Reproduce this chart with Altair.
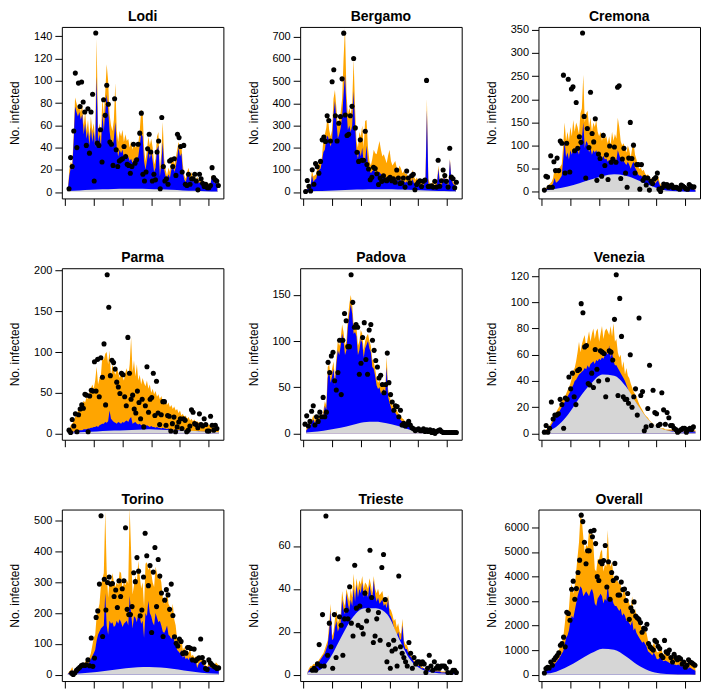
import altair as alt
import numpy as np
import pandas as pd

X_TICKS = [0, 20, 40, 60, 80, 100]
X_DOMAIN = [-2.2, 110.2]

# ---------------- Lodi ----------------
lodi_start = 2
lodi_orange = [3,20,27,25,50,85,80,75,80,72, 78,60,72,55,65,50,68,55,62,48,
               138,55,62,50,85,70,90,115,100,70, 60,55,65,98,55,45,55,50,56,45,
               52,46,48,40,46,38,45,40,42,44, 55,74,72,40,28,38,50,42,48,40,
               25,30,50,54,20,35,63,30,20,15, 22,18,28,32,25,30,38,45,40,42,
               25,15,12,18,22,14,18,12,16,10, 14,10,12,8,11,8,9,6,8,6, 15,13,10,11,8]
lodi_blue = [2,15,22,20,45,77,72,68,72,65, 70,52,62,48,55,42,58,45,55,40,
             104,45,52,40,70,55,72,88,75,55, 45,40,48,63,40,32,38,35,38,30,
             35,30,32,28,30,26,30,28,30,32, 42,53,50,28,20,28,38,30,36,28,
             18,22,38,42,14,25,45,20,14,11, 16,13,20,25,18,22,30,40,32,35,
             18,11,9,14,17,10,14,9,12,8, 11,8,9,6,9,6,7,5,6,5, 13,11,8,9,6]
lodi_grey = [1, 1.5, 2, 2.5, 2.8, 3, 3, 2.8, 2.5, 2, 1.5, 1.1, 0.8, 0.5]
lodi_points = [3,31,23,55,107,40,98,77,99,81,72,42,75,35,72,88,10,143,44,42,56,27,83,69,96,79,45,43,24,84,
               38,23,28,29,30,41,32,25,24,17,23,43,26,29,43,53,71,16,10,18,39,52,36,10,16,11,36,46,3,67,
               23,10,12,7,28,29,23,30,15,52,49,41,18,42,7,6,16,7,12,12,16,10,2,16,12,8,5,7,4,4,6,22,13,11,10,6]

# ---------------- Bergamo ----------------
bergamo_start = 1
bergamo_orange = [2,10,20,25,30,100,70,75,80,120, 130,130,160,240,260,290,350,280,250,280,
                  420,460,380,300,330,360,420,600,740,450, 350,380,350,400,600,380,230,200,270,250,
                  300,200,320,325,200,140,120,150,190,175, 170,200,230,190,160,170,150,130,165,190,
                  140,120,130,140,110,100,120,105,85,95, 80,85,60,75,60,100,70,55,65,50,
                  60,45,40,55,70,420,60,40,35,45, 30,40,50,120,55,40,60,90,60,45, 40,150,70,50,40,35]
bergamo_blue = [2,8,15,20,25,75,45,55,60,90, 100,105,140,180,190,240,255,230,205,230,
                350,410,320,240,260,290,340,440,530,380, 280,300,270,300,455,300,180,150,190,160,
                200,130,140,210,120,100,85,95,100,90, 80,85,90,80,70,75,65,60,70,75,
                60,55,60,62,55,50,58,52,45,50, 42,48,38,42,35,60,40,35,40,32,
                38,30,28,35,45,370,40,28,25,30, 22,28,35,105,40,30,45,70,45,35, 30,145,55,40,30,28]
bergamo_grey = [2, 4, 6, 8, 10, 11, 12, 12, 11, 10, 8, 6, 4, 3]
bergamo_points = [2,52,26,5,100,35,128,114,85,138,235,248,228,344,322,230,497,551,344,230,310,340,510,716,347,
                  255,260,344,386,602,289,179,138,235,143,143,274,124,104,55,66,111,106,82,34,63,48,73,54,51,
                  60,66,51,60,44,99,63,38,41,63,22,95,63,41,73,80,10,34,44,51,25,48,54,503,25,26,28,22,48,22,
                  143,26,51,99,74,48,22,197,67,60,19,44]

# ---------------- Cremona ----------------
cremona_start = 2
cremona_orange = [5,8,12,15,18,22,30,50,40,45, 50,55,60,100,150,110,130,110,140,120,
                  155,130,150,140,125,170,180,253,150,170, 175,140,160,130,150,140,155,130,120,130,
                  110,130,115,120,105,120,100,130,110,125, 115,160,140,110,100,105,95,85,100,90,
                  75,95,105,80,70,55,50,52,45,48, 40,35,38,30,28,30,22,25,30,35,
                  22,15,12,18,20,15,16,13,14,12, 13,11,12,10,11,9,10,8,9,7, 8,12,11,10,9,8]
cremona_blue = [3,6,8,10,12,14,18,30,20,22, 25,30,35,70,110,75,85,70,90,80,
                95,85,100,90,80,105,115,150,95,110, 105,85,95,80,90,85,90,80,75,80,
                70,78,70,72,65,70,62,75,68,72, 68,90,80,70,65,68,62,58,65,58,
                50,60,65,52,46,38,35,36,32,33, 28,25,27,22,20,22,16,18,22,26,
                16,10,8,12,14,10,11,9,10,8, 9,8,8,7,8,6,7,6,6,5, 6,9,8,7,6,5]
cremona_grey = [3, 7, 12, 19, 27, 34, 38, 35, 26, 15, 6, 2, 1, 0.5]
cremona_points = [4,34,32,10,78,10,65,46,73,46,110,105,252,41,105,243,43,222,227,89,193,94,119,107,343,
                  163,30,137,96,215,126,108,158,25,82,72,34,122,57,80,27,99,64,71,97,64,226,229,29,71,
                  94,41,10,73,150,72,101,41,59,59,6,59,25,31,15,30,4,23,18,28,31,41,6,1,9,17,13,16,10,13,
                  15,9,10,10,8,6,15,13,10,7,6,16,13,10,11]

# ---------------- Parma ----------------
parma_start = 2
parma_orange = [3,5,10,12,15,20,22,28,32,30, 35,40,38,45,42,50,55,60,55,65,
                82,60,68,72,95,90,98,100,85,102, 70,85,78,72,80,75,68,78,70,65,
                75,80,70,85,118,75,90,70,85,65, 72,60,68,62,58,65,55,60,50,55,
                48,52,45,48,42,46,40,38,42,35, 38,32,35,30,33,28,30,25,28,22,
                24,20,22,18,20,16,18,15,17,14, 15,13,14,12,13,11,12,10,11,9, 10,8,9,7,6,5]
parma_blue = [1,1,2,2,2,3,3,3,4,4, 4,5,5,5,6,6,7,7,8,8,
              9,8,10,11,12,12,14,13,15,28, 18,16,14,13,12,14,13,12,14,13,
              15,16,14,18,20,12,13,14,12,11, 12,10,11,10,9,10,9,8,9,8,
              8,7,8,7,7,6,7,6,6,5, 6,5,5,5,4,5,4,4,4,4,
              3,4,3,3,3,3,3,3,2,3, 2,3,2,2,2,2,2,2,2,2, 2,1,2,1,1,1]
parma_grey = [1, 1.5, 2, 3, 3.5, 4, 4.5, 5, 4.5, 4, 3.5, 3, 2, 1.5]
parma_points = [4,1,17,9,24,2,23,30,35,31,48,47,2,46,53,52,88,52,91,45,93,69,110,35,195,155,71,90,87,79,
                63,57,49,74,72,45,34,118,74,42,47,30,25,52,38,18,42,8,34,82,26,42,44,74,22,64,25,11,23,39,
                39,10,22,21,3,12,20,2,8,14,18,6,18,16,2,4,9,29,26,12,11,7,24,11,9,18,11,3,3,21,10,4,10,6]

# ---------------- Padova ----------------
padova_start = 2
padova_orange = [5,8,10,12,15,20,14,18,20,16, 22,18,25,35,30,72,75,62,70,78,
                 60,82,100,95,103,118,110,95,100,125, 140,150,140,118,120,115,95,100,112,108,
                 90,100,105,108,100,95,80,78,70,60, 55,58,50,52,55,50,83,48,40,35,
                 30,32,28,25,22,20,18,16,15,12, 14,10,15,9,8,6,5,4,4,3,
                 3,3,3,2,2,2,2,2,2,2, 2,2,2,2,2,2,1,1,1,1, 1,1,1,1,1]
padova_blue = [3,5,7,9,12,15,11,14,16,13, 18,15,20,30,25,60,68,55,62,70,
               52,75,90,85,95,108,100,85,90,115, 130,140,130,108,110,105,85,90,102,98,
               82,92,96,100,92,88,72,70,62,52, 48,50,43,45,48,43,72,40,33,28,
               24,26,22,20,18,16,14,13,12,10, 11,8,12,7,6,5,4,3,3,2,
               2,2,2,2,2,2,1,1,1,1, 1,1,1,1,1,1,1,1,1,1, 1,1,1,1,1]
padova_grey = [1, 2, 4, 6, 9, 12, 12.5, 11, 8, 4, 1.5, 0.5, 0.3, 0.2]
padova_points = [10,19,8,13,24,30,9,18,13,23,18,39,18,23,77,66,84,88,57,47,66,101,42,101,130,122,94,94,172,142,
                 115,118,115,64,76,104,120,80,64,112,118,101,90,79,72,60,63,53,44,53,87,55,42,34,25,30,29,18,25,9,
                 11,8,10,13,9,6,5,3,4,5,3,3,5,2,4,2,4,1,3,0,2,3,4,2,1,1,1,1,1,1,1,1,1]

# ---------------- Venezia ----------------
venezia_start = 2
venezia_orange = [1,3,4,5,7,9,12,14,16,18, 20,22,25,27,28,30,33,35,38,42,
                  48,50,55,62,70,62,68,72,75,65, 72,78,70,76,80,72,78,80,70,76,
                  82,72,78,80,78,75,82,74,84,70, 72,62,58,60,50,55,45,50,44,42,
                  38,35,32,30,28,25,22,20,18,16, 14,13,12,10,9,8,7,6,6,5,
                  5,4,4,4,3,3,3,3,3,3, 2.5,2.5,2.5,2.5,2.5,2.5,2.5,2.5,2.5,2.5, 2.5,2.5,2.5,2.5,2.5,2.5]
venezia_blue = [1,2,3,4,5,7,9,11,13,15, 16,18,20,22,24,26,28,30,32,35,
                37,40,41,43,45,46,47,48,50,49, 52,50,53,54,55,53,56,55,57,56,
                58,57,60,62,60,67,58,62,55,52, 52,50,48,46,44,42,40,37,34,31,
                29,27,25,24,23,21,18,16,14,12, 11,10,9,8,7,6,5,5,4,4,
                3,3,2.5,2.5,2,2,2,2,2,2, 1.5,1.5,1.5,1.5,1.5,1.5,1.5,1.5,1.5,1.5, 1.5,1.5,1.5,1.5,1.5,1.5]
venezia_grey = [1, 5, 14, 27, 38, 45, 44, 36, 22, 10, 4, 1.5, 0.8, 0.5]
venezia_points = [1,6,1,4,24,11,14,14,15,26,22,4,27,26,43,34,46,28,22,48,49,99,92,66,67,38,37,46,35,64,
                  49,40,63,62,61,28,41,63,62,56,87,121,29,103,74,28,26,26,23,60,20,28,34,14,88,29,32,2,5,19,
                  52,6,33,16,15,6,7,31,18,7,16,12,6,6,4,3,1,2,3,4,4,1,3,4,3,5]

# ---------------- Torino ----------------
torino_start = 2
torino_orange = [5,10,15,25,10,15,20,22,25,30, 28,35,40,50,45,55,70,95,120,130,
                 190,210,230,290,310,330,530,340,250,310, 295,330,300,285,300,290,335,330,280,300,
                 290,310,295,540,400,260,290,320,300,370, 320,280,300,220,360,365,340,350,330,300,
                 285,350,330,310,320,300,250,230,240,280, 230,220,200,230,180,160,115,110,100,120,
                 80,90,75,80,70,85,60,65,55,60, 30,50,55,60,45,40,30,25,40,35, 30,28,30,40,35,30]
torino_blue = [3,6,10,15,8,12,15,17,20,22, 22,27,30,35,35,40,50,60,70,80,
               110,130,140,150,155,160,265,160,130,175, 165,170,155,160,175,165,180,170,155,165,
               170,175,160,255,200,150,190,185,170,200, 190,165,175,120,200,190,240,200,190,170,
               160,200,185,170,175,160,140,135,145,160, 130,125,115,130,110,100,80,75,70,80,
               55,62,50,55,48,58,42,45,40,42, 22,35,40,42,32,28,22,18,28,25, 22,20,22,28,25,20]
torino_grey = [2, 4, 7, 11, 16, 21, 24, 25, 23, 19, 14, 9, 5, 3]
torino_points = [5,1,6,14,19,24,30,32,30,32,48,29,119,27,54,186,207,294,516,124,310,210,299,317,294,296,254,275,218,305,
                 254,279,305,477,212,195,195,221,331,302,380,336,191,210,317,459,386,289,354,137,333,413,221,374,320,265,124,242,276,259,
                 212,294,192,123,102,93,116,108,69,72,70,88,88,85,48,83,45,51,55,116,56,40,20,17,48,38,32,27,24,20,22]

# ---------------- Trieste ----------------
trieste_start = 3
trieste_orange = [1.5,3,4,4,5,5,6,6,7,8, 9,10,12,14,16,24,33,18,20,26,
                  30,24,26,28,39,34,32,40,37,34, 40,36,47,38,45,40,44,42,46,40,
                  43,42,40,45,42,38,46,40,38,40, 37,38,39,35,36,34,37,31,30,28,
                  25,26,22,24,20,19,26,16,14,14, 12,10,9,8,7,6,6,5,4,4,
                  3.5,3,3,2.5,2.5,2.5,2,2,2,2, 2,2,2,1.5,1.5,1.5,1.5,1.5,1.5,1.5, 1.5,1.5,1.5,1.5]
trieste_blue = [1,2,3,3,4,4,5,5,6,7, 8,9,10,12,14,20,30,16,17,22,
                25,20,22,24,35,30,28,38,33,30, 35,32,40,34,42,36,40,38,43,36,
                40,38,36,42,38,35,44,37,34,36, 33,34,35,32,33,31,35,28,27,25,
                22,20,18,20,17,16,23,14,12,12, 10,9,8,7,6,5,5,4,4,3,
                3,3,2,2,2,2,2,2,2,1.5, 1.5,1.5,1.5,1,1,1,1,1,1,1, 1,1,1,1]
trieste_grey = [1, 2, 8, 18, 27, 31, 31, 28, 17, 7, 2.5, 1, 0.5, 0.3]
trieste_points = [2,3,2,5,14,4,28,4,74,9,24,13,3,28,8,54,27,23,9,26,30,26,41,24,18,51,31,23,32,22,
                  19,38,25,30,58,36,15,18,26,29,16,50,56,35,6,14,3,11,16,12,4,46,13,10,8,6,4,15,10,3,
                  8,5,6,6,5,6,5,1,3,9,4,2,6,3,4,3,4,4,4,3,1,6,1,2,2,1]

# ---------------- Overall ----------------
overall_start = 2
overall_orange = [100,200,280,330,420,500,600,700,780,880, 1000,1150,1300,1500,2000,2550,2400,2700,3500,3700,
                  3300,3600,4200,4800,5400,6500,6300,5600,5000,5300, 5200,5900,5700,5800,5300,4300,4200,4700,4700,5000,
                  5100,4200,4500,4400,5900,4600,4400,4600,4000,3800, 3900,3800,3700,3700,3200,3500,3400,3000,3100,2900,
                  2700,3200,2500,2700,2400,2300,2200,2000,1900,2000, 1850,1700,1400,1300,1200,1100,1300,1200,950,900,
                  1000,1100,900,800,900,850,800,750,700,750, 700,650,600,700,650,550,600,500,550,500, 450,550,500,400,350,300]
overall_blue = [70,150,200,250,300,350,400,450,500,580, 650,750,850,950,1200,1500,1600,1800,2200,2400,
                2300,2600,2900,3200,3400,3600,3500,3200,3300,3400, 3300,3200,3400,3500,3300,2900,2800,3100,3200,3300,
                3200,2900,3100,3000,3700,3100,3000,3100,2900,2800, 2800,2700,2600,2700,2400,2500,2400,2200,2200,2100,
                2000,2200,1800,1900,1700,1600,1500,1400,1300,1350, 1250,1150,950,900,850,780,900,800,650,620,
                680,700,600,550,580,550,520,480,450,480, 430,400,380,420,380,330,350,300,320,280, 250,300,260,220,190,160]
overall_grey = [30, 120, 330, 600, 870, 1060, 1020, 750, 400, 160, 50, 15, 5, 2]
overall_points = [66,250,303,277,514,382,607,699,778,897,1200,1266,1530,1134,2545,2492,2216,3481,3811,3073,
                  3508,4167,4668,6501,6238,5394,4523,5051,5051,5842,5618,5882,5341,3996,3838,4602,4523,4655,5262,3574,
                  4602,3073,4167,3838,4536,3943,3244,3244,3772,3468,3495,3020,3310,2255,2730,2585,2967,2387,2321,2255,
                  2123,1728,1886,1860,2057,1266,1134,1068,1002,1398,1332,1160,1068,778,699,1398,936,870,1002,699,
                  514,831,699,607,699,646,435,514,303,382,607,514,488,435,382]

panels = [
    ("Lodi", lodi_start, lodi_orange, lodi_blue, lodi_grey, lodi_points, (2.8, 106.7), (-5.7, 148.5), 140, 20),
    ("Bergamo", bergamo_start, bergamo_orange, bergamo_blue, bergamo_grey, bergamo_points, (1.6, 106.5), (-29, 744), 700, 100),
    ("Cremona", cremona_start, cremona_orange, cremona_blue, cremona_grey, cremona_points, (1.9, 106.0), (-14, 356), 350, 50),
    ("Parma", parma_start, parma_orange, parma_blue, parma_grey, parma_points, (2.8, 105.7), (-7.8, 203), 200, 50),
    ("Padova", padova_start, padova_orange, padova_blue, padova_grey, padova_points, (1.2, 106.5), (-6.9, 179), 150, 50),
    ("Venezia", venezia_start, venezia_orange, venezia_blue, venezia_grey, venezia_points, (1.9, 105.6), (-4.8, 126), 120, 20),
    ("Torino", torino_start, torino_orange, torino_blue, torino_grey, torino_points, (4.6, 106.9), (-20.6, 536), 500, 100),
    ("Trieste", trieste_start, trieste_orange, trieste_blue, trieste_grey, trieste_points, (6.3, 106.5), (-3, 77), 60, 20),
    ("Overall", overall_start, overall_orange, overall_blue, overall_grey, overall_points, (1.9, 106.7), (-259, 6730), 6000, 1000),
]

FONT = "Liberation Sans"
W, H = 162, 172
LABEL_SIZE = 11
TITLE_OFFSET = 3


def make_panel(name, start, orange, blue, grey, pts, prange, ydom, ymax, ystep):
    n = min(len(orange), len(blue))
    days = start + np.arange(n)
    orange_df = pd.DataFrame({"day": days, "v": orange[:n]})
    blue_df = pd.DataFrame({"day": days, "v": blue[:n]})
    grey_df = pd.DataFrame({"day": np.linspace(start, start + n - 1, len(grey)), "v": grey})
    pt_df = pd.DataFrame({"day": np.linspace(prange[0], prange[1], len(pts)), "v": pts})

    xscale = alt.Scale(domain=X_DOMAIN, nice=False, zero=False)
    yscale = alt.Scale(domain=list(ydom), nice=False, zero=False)
    x_axis = alt.Axis(values=X_TICKS, labels=False, title=None, tickSize=7,
                      domain=False, grid=False, tickColor="black")
    y_axis = alt.Axis(values=list(range(0, ymax + 1, ystep)), format="d", title="No. infected", tickSize=7,
                      domain=False, grid=False, labelFontSize=LABEL_SIZE, labelFont=FONT, labelColor="black",
                      tickColor="black", labelPadding=3, minExtent=36, maxExtent=36,
                      titleFontSize=12, titleFont=FONT, titleFontWeight="normal", titleColor="black",
                      titlePadding=4)
    x = alt.X("day:Q", scale=xscale, axis=x_axis)
    y = alt.Y("v:Q", scale=yscale, axis=y_axis)

    # keep the panel titles on one line: a top tick label that pokes above the
    # frame would otherwise push that panel's title upward
    top_gap = (ydom[1] - ymax) / (ydom[1] - ydom[0]) * H
    overflow = max(0.0, LABEL_SIZE / 2 + 0.5 - top_gap)
    t_offset = TITLE_OFFSET - overflow

    o = alt.Chart(orange_df).mark_area(color="#FFA500", clip=True, opacity=1).encode(
        x=x, y=y, y2=alt.datum(0))
    b = alt.Chart(blue_df).mark_area(color="#0000FF", clip=True, opacity=1).encode(
        x=x, y=y, y2=alt.datum(0))
    g = alt.Chart(grey_df).mark_area(color="#D6D6D6", clip=True, opacity=1, interpolate="monotone").encode(
        x=x, y=y, y2=alt.datum(0))
    p = alt.Chart(pt_df).mark_circle(color="black", size=26, opacity=1, clip=True).encode(
        x=x, y=y)
    return alt.layer(o, b, g, p).properties(
        width=W, height=H,
        title=alt.TitleParams(name, fontSize=14, fontWeight="bold", font=FONT, color="black",
                              offset=t_offset, frame="group"),
    )


charts = [make_panel(*p) for p in panels]
chart = alt.concat(*charts, columns=3, spacing={"row": 70, "column": 77}, bounds="flush").properties(
    padding={"left": 0, "top": 0, "right": 0, "bottom": 0}
).configure_view(stroke="black", strokeWidth=1)

chart.save("out.html", embed_options={"renderer": "svg", "actions": False})
